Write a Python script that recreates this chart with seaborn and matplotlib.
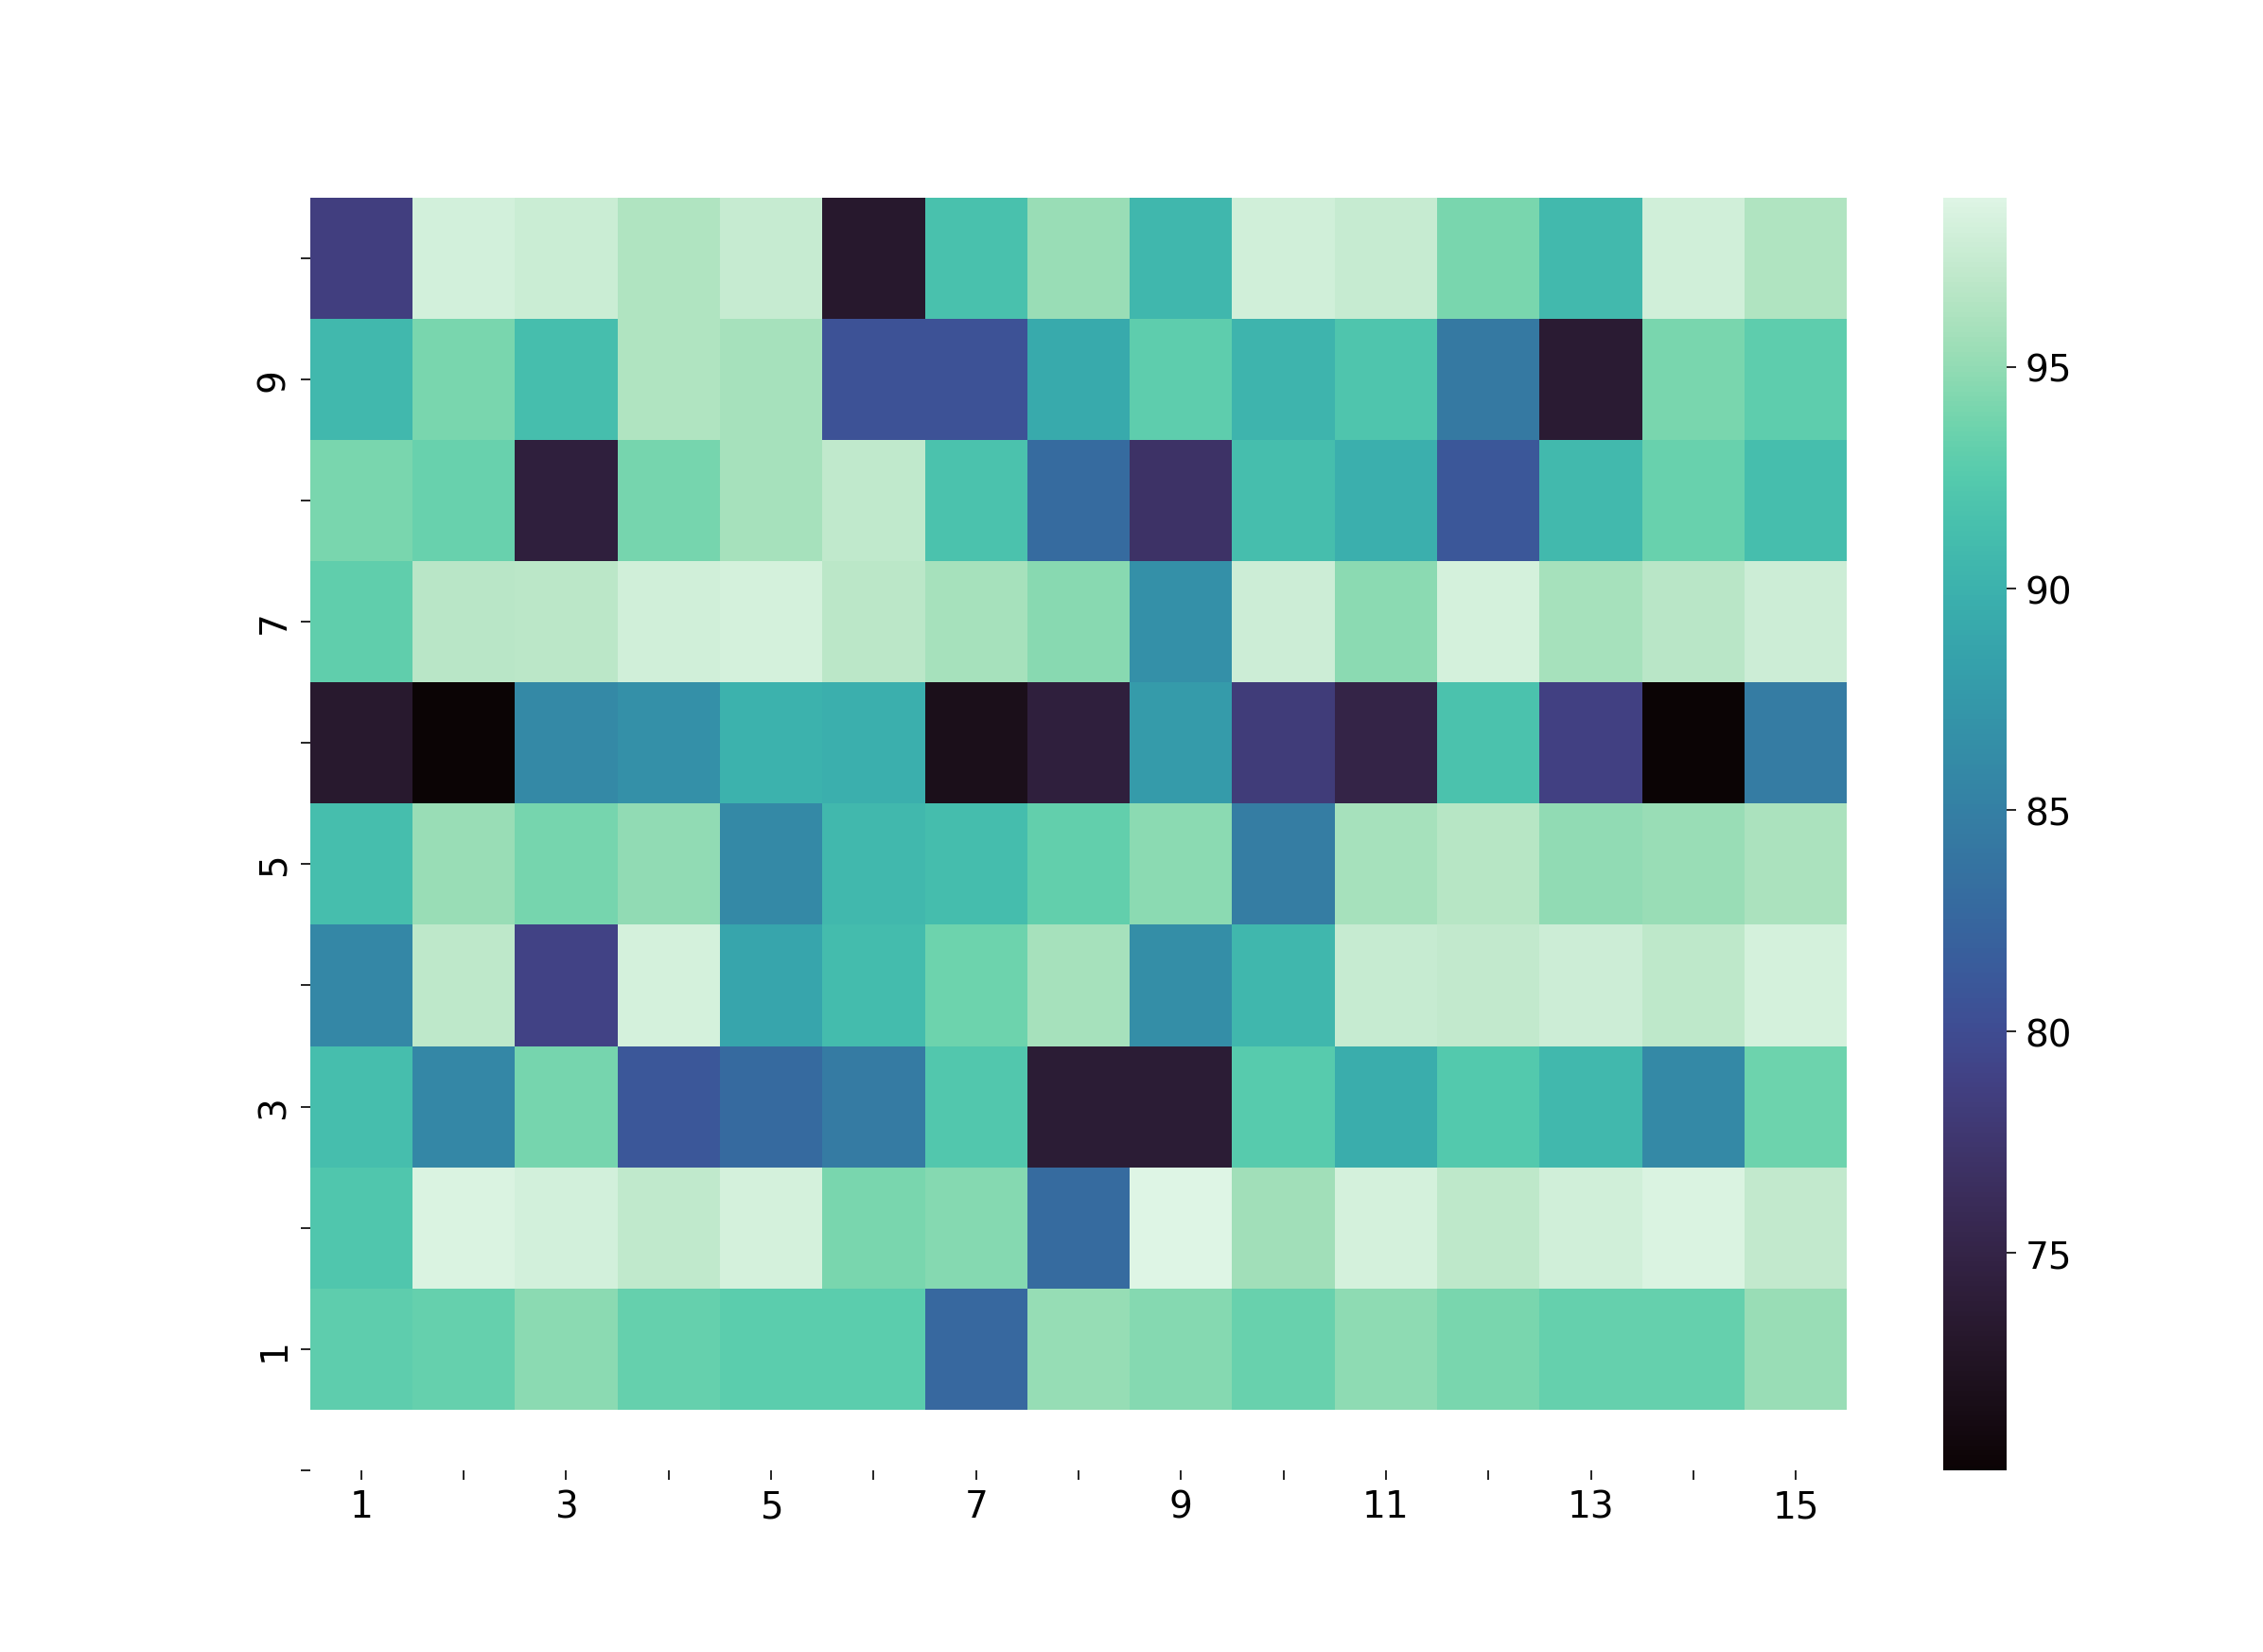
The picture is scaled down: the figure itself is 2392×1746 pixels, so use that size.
import numpy as np
import pandas as pd
import matplotlib
matplotlib.use("Agg")
import matplotlib.pyplot as plt
import seaborn as sns

# Column / row labels (only odd ones are printed)
x_labels = ["1", "", "3", "", "5", "", "7", "", "9", "", "11", "", "13", "", "15"]
y_labels = ["", "9", "", "7", "", "5", "", "3", "", "1", ""]

# Values, top row first
row10 = [78.6, 98.1, 97.6, 96.3, 97.4, 73.2, 91.6, 95.3, 90.6, 98.0, 97.4, 94.1, 90.8, 98.0, 96.3]
row9 = [90.7, 94.1, 91.2, 96.3, 95.8, 80.6, 80.6, 89.2, 92.9, 90.3, 92.0, 84.3, 73.6, 94.1, 92.9]
row8 = [94.1, 93.4, 74.3, 93.9, 95.8, 97.1, 91.7, 83.0, 77.0, 91.3, 89.8, 81.0, 90.8, 93.4, 91.3]
row7 = [93.1, 96.7, 96.9, 98.0, 98.2, 96.9, 95.8, 94.6, 86.6, 97.8, 94.7, 98.2, 95.9, 96.7, 97.8]
row6 = [73.3, 70.1, 86.0, 86.6, 90.0, 89.8, 71.8, 74.3, 87.8, 78.2, 75.0, 91.7, 78.8, 70.1, 84.6]
row5 = [91.2, 95.3, 94.0, 95.0, 86.0, 90.7, 91.1, 93.2, 94.7, 84.7, 95.8, 96.6, 95.0, 95.3, 96.1]
row4 = [85.8, 97.0, 79.0, 98.2, 88.8, 91.0, 93.6, 95.8, 86.4, 90.6, 97.4, 97.2, 97.8, 97.0, 98.2]
row3 = [91.3, 85.8, 93.9, 81.0, 82.8, 84.5, 92.3, 73.8, 73.8, 92.6, 89.6, 92.4, 90.7, 86.0, 93.6]
row2 = [92.1, 98.6, 98.1, 97.1, 98.2, 94.1, 94.5, 83.0, 98.83, 95.6, 98.2, 97.0, 98.0, 98.5, 97.2]
row1 = [92.9, 93.3, 94.7, 93.3, 92.8, 92.8, 82.6, 95.2, 94.5, 93.4, 94.8, 94.1, 93.3, 93.3, 95.3]

df = pd.DataFrame([row10, row9, row8, row7, row6, row5, row4, row3, row2, row1])

plt.rcParams["font.size"] = 14
plt.rcParams["font.family"] = ["DejaVu Sans"]

fig = plt.figure(figsize=(11.96, 8.734), dpi=200)
fig.subplots_adjust(left=0.137, right=0.986, top=0.88, bottom=0.11)
ax = fig.add_subplot(111)

sns.heatmap(df, cmap="mako", ax=ax, xticklabels=x_labels, yticklabels=False)

# extra half row of blank space at the bottom, plus an unlabelled tick there
ax.set_ylim(len(df) + 0.5, 0)
ax.set_yticks(np.arange(0.5, len(df) + 1, 1))
ax.set_yticklabels(y_labels, rotation=90, va="center")
ax.tick_params(axis="both", labelsize=14, width=0.6, length=3.5)

cbar = ax.collections[0].colorbar
cbar.ax.tick_params(labelsize=14, width=0.6, length=3.5)

fig.savefig("out.png", dpi=200)
